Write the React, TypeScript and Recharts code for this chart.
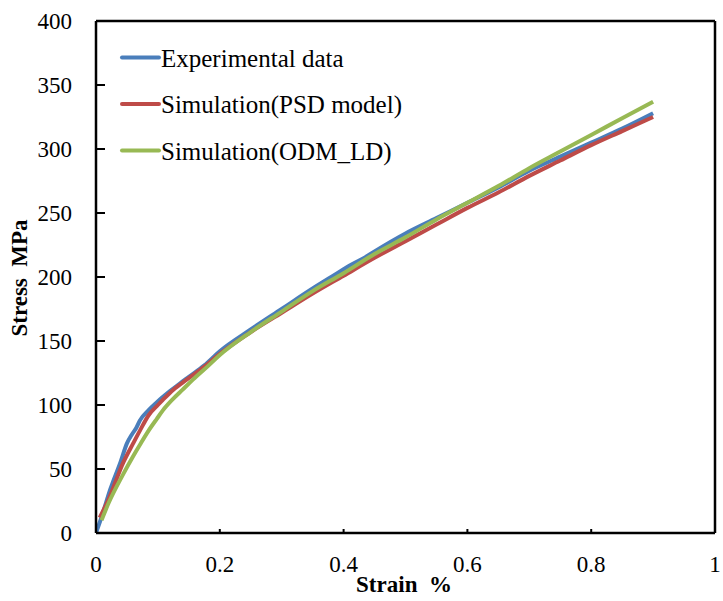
import React from 'react';
import { LineChart, Line, XAxis, YAxis, ReferenceLine, Legend, Label } from 'recharts';

const expStrain = [0, 0.01, 0.023, 0.04, 0.05, 0.058, 0.065, 0.071, 0.085, 0.098, 0.12, 0.136, 0.15, 0.175, 0.2, 0.25, 0.3, 0.35, 0.38, 0.4, 0.41, 0.43, 0.45, 0.5, 0.55, 0.6, 0.65, 0.7, 0.75, 0.8, 0.85, 0.9];
const expStress = [0, 14, 34, 56, 70, 77, 82, 88, 96, 102, 111, 117, 122, 131, 142, 159, 175, 191, 200, 206, 209, 214, 220, 234, 246, 258, 270, 283, 294, 305, 316, 328];

const psdStrain = [0.006, 0.02, 0.044, 0.06, 0.071, 0.085, 0.1, 0.108, 0.125, 0.147, 0.175, 0.2, 0.25, 0.3, 0.35, 0.4, 0.45, 0.5, 0.55, 0.6, 0.65, 0.7, 0.75, 0.8, 0.85, 0.9];
const psdStress = [12, 26, 55, 70, 80, 92, 100, 104, 112, 120, 130, 140, 157, 172, 187, 201, 215, 228, 241, 254, 266, 279, 291, 303, 314, 325];

const odmStrain = [0.009, 0.02, 0.044, 0.06, 0.071, 0.085, 0.098, 0.11, 0.125, 0.14, 0.157, 0.18, 0.2, 0.25, 0.3, 0.35, 0.4, 0.45, 0.5, 0.55, 0.6, 0.65, 0.7, 0.75, 0.8, 0.85, 0.9];
const odmStress = [10, 23, 46, 60, 69, 80, 89, 97, 105, 112, 120, 130, 139, 157, 173, 189, 203, 218, 231, 245, 258, 271, 285, 298, 311, 324, 337];

const seriesNames = ['Experimental data', 'Simulation(PSD model)', 'Simulation(ODM_LD)'];
const seriesColors = ['#4A7EBB', '#BE4B48', '#98B954'];

const xTicks = [0, 0.2, 0.4, 0.6, 0.8, 1];
const xTickLabels = ['0', '0.2', '0.4', '0.6', '0.8', '1'];
const yTicks = [0, 50, 100, 150, 200, 250, 300, 350, 400];

const toRows = (xs: number[], ys: number[]) => xs.map((x, i) => ({ x, y: ys[i] }));
const expData = toRows(expStrain, expStress);
const psdData = toRows(psdStrain, psdStress);
const odmData = toRows(odmStrain, odmStress);

const FONT = 'Liberation Serif';

const YTick = (props: any) => {
  const { x, y, payload } = props;
  return (
    <g>
      <text x={x} y={y + 8} textAnchor="end" style={{ fontFamily: FONT, fontSize: 23 }} fill="#000">
        {payload.value}
      </text>
      {payload.value !== 0 && payload.value !== 400 && (
        <line x1={x + 24} x2={x + 33} y1={y} y2={y} stroke="#000" strokeWidth={2} />
      )}
    </g>
  );
};

const XTick = (props: any) => {
  const { x, y, payload, index } = props;
  return (
    <g>
      <text x={x} y={y + 39} textAnchor="middle" style={{ fontFamily: FONT, fontSize: 23 }} fill="#000">
        {xTickLabels[index] ?? payload.value}
      </text>
      <line x1={x} x2={x} y1={y - 4} y2={y - 1} stroke="#000" strokeWidth={2} />
    </g>
  );
};

const LegendContent = () => (
  <svg width={520} height={180} style={{ display: 'block', overflow: 'visible' }}>
    {seriesNames.map((name, i) => {
      const yy = 57.5 + 46.5 * i;
      return (
        <g key={i}>
          <line x1={122} x2={159} y1={yy} y2={yy} stroke={seriesColors[i]} strokeWidth={4} strokeLinecap="round" />
          <text x={161} y={yy + 9} style={{ fontFamily: FONT, fontSize: 25 }} fill="#000">
            {name}
          </text>
        </g>
      );
    })}
  </svg>
);

export default function App() {
  return (
    <div style={{ position: 'absolute', left: 0, top: 0, background: '#fff' }}>
      <LineChart width={723} height={601} margin={{ top: 21, right: 8, bottom: 8, left: 0 }}>
        <XAxis
          type="number"
          dataKey="x"
          domain={[0, 1]}
          ticks={xTicks}
          tick={<XTick />}
          tickLine={false}
          tickSize={0}
          tickMargin={0}
          height={60}
          axisLine={{ stroke: '#000', strokeWidth: 2.5 }}
          allowDataOverflow
        >
          <Label
            content={() => (
              <text x={404} y={592} textAnchor="middle" style={{ fontFamily: FONT, fontSize: 23, fontWeight: 'bold', whiteSpace: 'pre' }} fill="#000">
                {'Strain  %'}
              </text>
            )}
          />
        </XAxis>
        <YAxis
          type="number"
          dataKey="y"
          domain={[0, 400]}
          ticks={yTicks}
          tick={<YTick />}
          tickLine={false}
          tickSize={0}
          tickMargin={24}
          width={96}
          axisLine={{ stroke: '#000', strokeWidth: 2.5 }}
          allowDataOverflow
        >
          <Label
            content={() => (
              <text x={27} y={278} transform="rotate(-90, 27, 278)" textAnchor="middle" style={{ fontFamily: FONT, fontSize: 23, fontWeight: 'bold', whiteSpace: 'pre' }} fill="#000">
                {'Stress  MPa'}
              </text>
            )}
          />
        </YAxis>
        <ReferenceLine x={1} stroke="#000" strokeWidth={2.5} />
        <ReferenceLine y={400} stroke="#000" strokeWidth={2.5} />
        <Legend
          layout="vertical"
          align="center"
          verticalAlign="middle"
          wrapperStyle={{ left: 0, top: 0, width: 520, height: 180 }}
          content={<LegendContent />}
        />
        <Line data={expData} dataKey="y" name={seriesNames[0]} stroke={seriesColors[0]} strokeWidth={4} dot={false} type="monotone" isAnimationActive={false} />
        <Line data={psdData} dataKey="y" name={seriesNames[1]} stroke={seriesColors[1]} strokeWidth={4} dot={false} type="monotone" isAnimationActive={false} />
        <Line data={odmData} dataKey="y" name={seriesNames[2]} stroke={seriesColors[2]} strokeWidth={4} dot={false} type="monotone" isAnimationActive={false} />
      </LineChart>
    </div>
  );
}
